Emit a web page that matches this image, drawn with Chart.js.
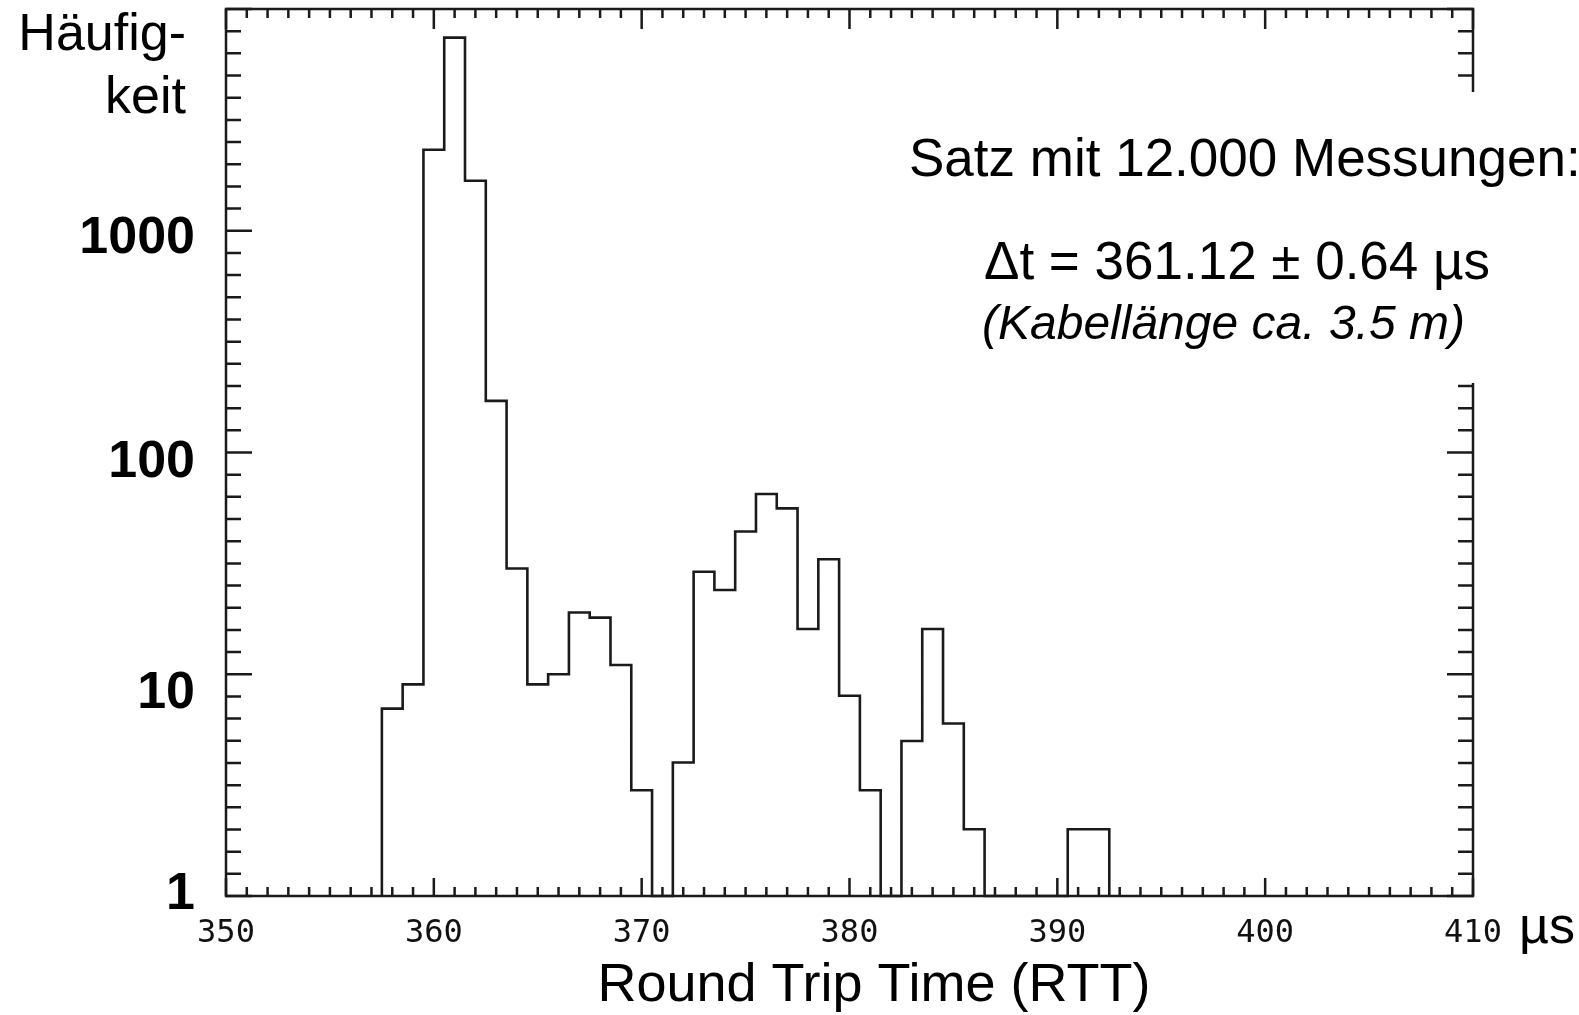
<!DOCTYPE html>
<html>
<head>
<meta charset="utf-8">
<script src="https://cdn.jsdelivr.net/npm/chart.js@4.4.1/dist/chart.umd.min.js"></script>
<style>
  html, body { margin: 0; padding: 0; background: #fff; }
  #wrap { width: 1579px; height: 1015px; position: relative; }
</style>
</head>
<body>
<div id="wrap"><canvas id="rtt"></canvas></div>
<script>
// histogram of round trip times, 1 µs bins (bin centres) and counts
var binCenters = [358, 359, 360, 361, 362, 363, 364, 365, 366, 367, 368, 369, 370, 371, 372,
                  373, 374, 375, 376, 377, 378, 379, 380, 381, 382, 383, 384, 385, 386, 387,
                  388, 389, 390, 391, 392];
var counts = [7, 9, 2320, 7430, 1680, 171, 30, 9, 10, 19, 18, 11, 3, 0, 4,
              29, 24, 44, 65, 56, 16, 33, 8, 3, 0, 5, 16, 6, 2, 0,
              0, 0, 0, 2, 2];
var xLabels = [350, 360, 370, 380, 390, 400, 410];
var yLabels = [1, 10, 100, 1000];

var LINE = '#1a1a1a';
var SANS = '"Liberation Sans", Arial, sans-serif';
// the y labels were placed by hand in the original: baseline offset below each tick
var yLabelDrop = [13, 34, 24, 22];

// outline of the histogram: one point on the left edge of each bin, held until the next edge
var stepPoints = [{ x: binCenters[0] - 0.5, y: 1 }];
binCenters.forEach(function (c, i) {
    stepPoints.push({ x: c - 0.5, y: Math.max(counts[i], 1) }); // empty bins sit on the log baseline
});
stepPoints.push({ x: binCenters[binCenters.length - 1] + 0.5, y: 1 });

var framePlugin = {
    id: 'frame',
    afterDatasetsDraw: function (chart) {
        var ctx = chart.ctx, a = chart.chartArea;
        var xs = chart.scales.x, ys = chart.scales.y;
        ctx.save();
        ctx.strokeStyle = LINE;
        ctx.lineWidth = 2.5;
        ctx.strokeRect(a.left, a.top, a.right - a.left, a.bottom - a.top);
        ctx.beginPath();
        for (var v = xs.min; v <= xs.max; v++) {
            var px = xs.getPixelForValue(v);
            var major = v % 10 === 0;
            ctx.moveTo(px, a.bottom); ctx.lineTo(px, a.bottom - (major ? 18 : 9));
            ctx.moveTo(px, a.top); ctx.lineTo(px, a.top + (major ? 20 : 9));
        }
        // IDL style: ten evenly spaced (in log) ticks per decade
        for (var k = 0; k <= 40; k++) {
            var py = ys.getPixelForValue(Math.pow(10, k / 10));
            var len = k % 10 === 0 ? 26 : 15;
            ctx.moveTo(a.left, py); ctx.lineTo(a.left + len, py);
            ctx.moveTo(a.right, py); ctx.lineTo(a.right - len, py);
        }
        ctx.stroke();

        // decade labels
        ctx.fillStyle = '#000';
        ctx.font = 'bold 52px ' + SANS;
        ctx.textAlign = 'right';
        ctx.textBaseline = 'alphabetic';
        yLabels.forEach(function (v, i) {
            ctx.fillText(String(v), a.left - 31, ys.getPixelForValue(v) + yLabelDrop[i]);
        });
        ctx.restore();
    },
    afterDraw: function (chart) {
        var ctx = chart.ctx;
        ctx.save();
        // the annotation sits on a white box that hides part of the right axis
        ctx.fillStyle = '#fff';
        ctx.fillRect(900, 92, 679, 291);

        ctx.fillStyle = '#000';
        ctx.textBaseline = 'alphabetic';
        ctx.font = '52px ' + SANS;
        ctx.textAlign = 'right';
        ctx.fillText('Häufig-', 186, 50);
        ctx.fillText('keit', 186, 113);

        ctx.textAlign = 'left';
        ctx.font = '53px ' + SANS;
        ctx.fillText('Satz mit 12.000 Messungen:', 909, 176);
        ctx.fillText('Δt = 361.12 ± 0.64 µs', 984, 279);
        ctx.font = 'italic 48px ' + SANS;
        ctx.fillText('(Kabellänge ca. 3.5 m)', 982, 339);

        ctx.font = '54px ' + SANS;
        ctx.textAlign = 'center';
        ctx.fillText('Round Trip Time (RTT)', 874, 1001);
        ctx.font = '52px ' + SANS;
        ctx.textAlign = 'left';
        ctx.fillText('µs', 1519, 943);
        ctx.restore();
    }
};

var chart = new Chart(document.getElementById('rtt').getContext('2d'), {
    type: 'line',
    data: {
        datasets: [{
            label: 'Häufigkeit',
            data: stepPoints,
            stepped: 'before',
            borderColor: LINE,
            borderWidth: 2.6,
            pointRadius: 0,
            fill: false,
            clip: 4
        }]
    },
    options: {
        responsive: true,
        maintainAspectRatio: false,
        animation: false,
        layout: { padding: { left: 0, right: 106, top: 9, bottom: 0 } },
        plugins: {
            legend: { display: false },
            tooltip: { enabled: false }
        },
        scales: {
            x: {
                type: 'linear',
                min: 350,
                max: 410,
                afterBuildTicks: function (s) { s.ticks = xLabels.map(function (v) { return { value: v }; }); },
                grid: { display: false, drawTicks: false },
                border: { display: false },
                ticks: {
                    autoSkip: false,
                    maxRotation: 0,
                    padding: 18,
                    color: '#111',
                    font: { family: '"DejaVu Sans Mono", monospace', size: 32 }
                },
                afterFit: function (s) { s.height = 119; s.paddingLeft = 0; s.paddingRight = 0; }
            },
            y: {
                type: 'logarithmic',
                min: 1,
                max: 10000,
                afterBuildTicks: function (s) { s.ticks = yLabels.map(function (v) { return { value: v }; }); },
                grid: { display: false, drawTicks: false },
                border: { display: false },
                ticks: { display: false },
                afterFit: function (s) { s.width = 226; s.paddingTop = 0; s.paddingBottom = 0; }
            }
        }
    },
    plugins: [framePlugin]
});
</script>
</body>
</html>
